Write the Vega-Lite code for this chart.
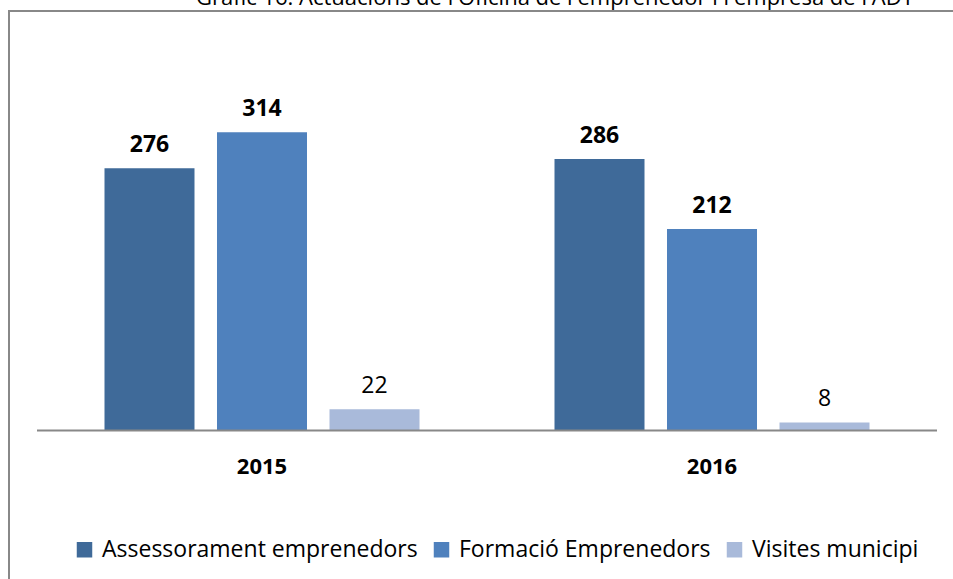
{
  "$schema": "https://vega.github.io/schema/vega-lite/v6.json",
  "width": 1000,
  "height": 580,
  "autosize": {"type": "none"},
  "padding": {"left": 9, "top": 11, "right": 0, "bottom": 0},
  "background": "white",
  "config": {
    "view": {"stroke": "#888888", "strokeWidth": 2},
    "font": "Open Sans",
    "legend": {
      "orient": "none",
      "legendX": 64,
      "legendY": 527,
      "direction": "horizontal",
      "symbolType": "square",
      "symbolSize": 240,
      "symbolStrokeWidth": 0,
      "labelFontSize": 23,
      "labelFont": "Open Sans",
      "labelColor": "black",
      "labelOffset": 6,
      "labelLimit": 0,
      "columnPadding": 12,
      "title": null
    }
  },
  "title": {
    "text": "Gràfic 16: Actuacions de l'Oficina de l'emprenedor i l'empresa de l'ADT",
    "anchor": "start",
    "frame": "group",
    "dx": 187,
    "fontSize": 22,
    "fontWeight": "normal",
    "font": "Open Sans",
    "offset": 1,
    "color": "black"
  },
  "datasets": {
    "bars": [
      {"year": "2015", "series": "Assessorament emprenedors", "value": 276},
      {"year": "2015", "series": "Formació Emprenedors", "value": 314},
      {"year": "2015", "series": "Visites municipi", "value": 22},
      {"year": "2016", "series": "Assessorament emprenedors", "value": 286},
      {"year": "2016", "series": "Formació Emprenedors", "value": 212},
      {"year": "2016", "series": "Visites municipi", "value": 8}
    ],
    "years": [{"year": "2015"}, {"year": "2016"}]
  },
  "layer": [
    {
      "data": {"name": "bars"},
      "mark": {"type": "bar"},
      "encoding": {
        "x": {"field": "year", "type": "nominal", "axis": null,
              "scale": {"paddingInner": 0, "paddingOuter": 0.1111, "align": 0.28}},
        "xOffset": {"field": "series", "type": "nominal",
                    "scale": {"domain": ["Assessorament emprenedors", "Formació Emprenedors", "Visites municipi"], "paddingInner": 0.2, "paddingOuter": 0.6}},
        "y": {"field": "value", "type": "quantitative", "axis": null,
              "scale": {"domain": [-169.8, 442.0], "zero": false, "nice": false}},
        "y2": {"datum": 0},
        "color": {"field": "series", "type": "nominal",
                  "scale": {"domain": ["Assessorament emprenedors", "Formació Emprenedors", "Visites municipi"],
                            "range": ["#3F6A99", "#4F81BD", "#A9BADA"]}}
      }
    },
    {
      "data": {"name": "bars"},
      "transform": [{"filter": "datum.series !== 'Visites municipi'"}],
      "mark": {"type": "text", "fontSize": 23, "fontWeight": "bold", "baseline": "alphabetic", "dy": -16, "color": "black", "font": "Open Sans"},
      "encoding": {
        "x": {"field": "year", "type": "nominal"},
        "xOffset": {"field": "series", "type": "nominal"},
        "y": {"field": "value", "type": "quantitative"},
        "text": {"field": "value", "type": "quantitative"}
      }
    },
    {
      "data": {"name": "bars"},
      "transform": [{"filter": "datum.series === 'Visites municipi'"}],
      "mark": {"type": "text", "fontSize": 23, "fontWeight": "normal", "baseline": "alphabetic", "dy": -16, "color": "black", "font": "Open Sans"},
      "encoding": {
        "x": {"field": "year", "type": "nominal"},
        "xOffset": {"field": "series", "type": "nominal"},
        "y": {"field": "value", "type": "quantitative"},
        "text": {"field": "value", "type": "quantitative"}
      }
    },
    {
      "data": {"name": "years"},
      "mark": {"type": "rect", "color": "#888888"},
      "encoding": {
        "x": {"field": "year", "type": "nominal"},
        "y": {"datum": 0.6},
        "y2": {"datum": -1.5}
      }
    },
    {
      "data": {"name": "years"},
      "mark": {"type": "text", "fontSize": 22, "fontWeight": "bold", "baseline": "middle", "color": "black", "font": "Open Sans"},
      "encoding": {
        "x": {"field": "year", "type": "nominal"},
        "y": {"datum": -39.5},
        "text": {"field": "year", "type": "nominal"}
      }
    }
  ]
}
